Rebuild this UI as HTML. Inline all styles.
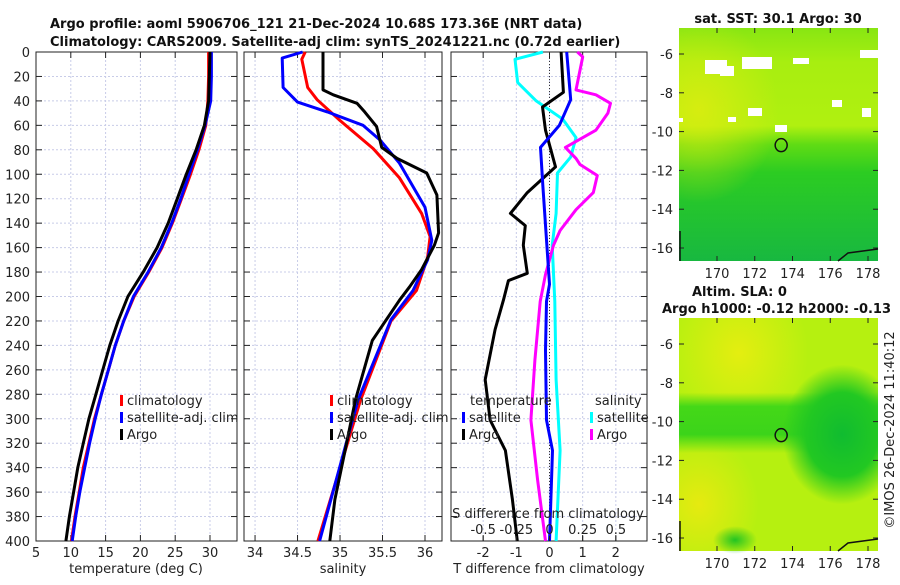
<!DOCTYPE html>
<html><head><meta charset="utf-8">
<style>
body{margin:0;background:#fff;}
svg text{font-family:"DejaVu Sans","Liberation Sans",sans-serif;}
</style></head>
<body>
<svg id="c" width="900" height="580" viewBox="0 0 900 580" xmlns="http://www.w3.org/2000/svg">
<defs>
<linearGradient id="sstg" x1="0" y1="0" x2="0" y2="1">
<stop offset="0" stop-color="#88e612"/><stop offset="0.15" stop-color="#a8ee10"/><stop offset="0.42" stop-color="#b0f010"/>
<stop offset="0.5" stop-color="#60dc14"/><stop offset="0.62" stop-color="#2ccc22"/><stop offset="1" stop-color="#18b840"/>
</linearGradient>
<radialGradient id="sstY" cx="0.1" cy="0.35" r="0.4"><stop offset="0" stop-color="#e0ec10" stop-opacity="0.8"/><stop offset="1" stop-color="#e0ec10" stop-opacity="0"/></radialGradient>
<radialGradient id="slaY1" cx="0.3" cy="0.15" r="0.35"><stop offset="0" stop-color="#e4ee10"/><stop offset="1" stop-color="#e4ee10" stop-opacity="0"/></radialGradient>
<radialGradient id="slaY2" cx="0.1" cy="0.8" r="0.3"><stop offset="0" stop-color="#e6ea10"/><stop offset="1" stop-color="#e6ea10" stop-opacity="0"/></radialGradient>
<radialGradient id="slaG" cx="0.82" cy="0.5" r="0.3"><stop offset="0" stop-color="#10bc30"/><stop offset="0.6" stop-color="#22c822"/><stop offset="1" stop-color="#22c822" stop-opacity="0"/></radialGradient>
<linearGradient id="slaBand" x1="0" y1="0" x2="0" y2="1">
<stop offset="0" stop-color="#44d818" stop-opacity="0"/><stop offset="0.32" stop-color="#44d818" stop-opacity="0"/><stop offset="0.38" stop-color="#44d818"/><stop offset="0.5" stop-color="#3cd41a"/><stop offset="0.58" stop-color="#44d818" stop-opacity="0"/>
</linearGradient>
<radialGradient id="slaG2" cx="0.5" cy="0.5" r="0.5"><stop offset="0" stop-color="#22c422"/><stop offset="1" stop-color="#22c422" stop-opacity="0"/></radialGradient>
</defs>
<g id="root"></g>
</svg>
<script>
// ---- data ----
const depthTicks=[0,20,40,60,80,100,120,140,160,180,200,220,240,260,280,300,320,340,360,380,400];
const tempTicks=[5,10,15,20,25,30];
const salTicks=[34,34.5,35,35.5,36];
const tdiffTicks=[-2,-1,0,1,2];
const sdiffTicks=[-0.5,-0.25,0,0.25,0.5];
const sdiffTickLabels=["-0.5","-0.25","0","0.25","0.5"];

const tDepth=[0,20,40,60,80,100,120,140,160,180,200,220,240,260,280,300,320,340,360,380,400];
const tArgo=[30,29.9,29.8,29.2,28,26.6,25.3,24,22.4,20.4,18.2,16.8,15.6,14.6,13.6,12.6,11.8,11,10.4,9.8,9.3];
const tClim=[29.8,29.8,29.7,29.4,28.4,27.2,25.9,24.6,23.1,21.2,19.1,17.6,16.4,15.4,14.4,13.4,12.6,11.8,11.2,10.6,10.1];
const tSat=[30.2,30.2,30.1,29.3,28.2,27,25.8,24.5,23,21.1,19,17.6,16.4,15.4,14.4,13.5,12.7,12,11.3,10.7,10.2];

const sArgoD=[0,31,35,42,49,61,78,87,99,117,148,158,178,192,203,236,285,326,366,400];
const sArgo=[34.8,34.8,34.92,35.2,35.29,35.43,35.49,35.67,36.02,36.14,36.16,36.11,35.96,35.82,35.7,35.38,35.18,35.06,34.94,34.88];
const sSatD=[0,5,29,41,49,60,72,91,127,154,170,195,219,285,400];
const sSat=[34.56,34.32,34.33,34.5,34.85,35.27,35.47,35.7,36.0,36.08,36.03,35.86,35.6,35.21,34.76];
const sClimD=[0,6,29,39,56,79,103,132,151,168,195,220,285,400];
const sClim=[34.59,34.55,34.62,34.73,35.0,35.39,35.7,35.96,36.06,36.03,35.9,35.6,35.24,34.74];

const dTArgoD=[0,33,45,64,94,115,132,142,158,181,187,203,227,268,301,326,366,400];
const dTArgo=[0.35,0.42,-0.21,-0.12,0.18,-0.67,-1.18,-0.73,-0.79,-0.67,-1.24,-1.39,-1.64,-1.94,-1.79,-1.33,-1.12,-0.97];
const dTSatD=[0,39,60,78,110,150,190,204,244,301,326,400];
const dTSat=[0.52,0.64,0.3,-0.27,-0.2,-0.1,0.0,-0.09,-0.12,-0.09,0.09,0.0];
const dSSatD=[0,6,25,40,55,70,86,99,132,158,204,268,326,400];
const dSSat=[-0.05,-0.26,-0.24,-0.1,0.1,0.2,0.16,0.06,0.05,0.02,0.04,0.05,0.08,0.05];
const dSArgoD=[0,4,31,35,42,50,64,78,87,92,101,115,129,146,158,182,204,252,301,350,400];
const dSArgo=[0.21,0.25,0.2,0.35,0.46,0.44,0.35,0.12,0.2,0.23,0.36,0.33,0.2,0.08,0.03,-0.03,-0.07,-0.11,-0.14,-0.09,-0.03];

const latTicks=[-6,-8,-10,-12,-14,-16];
const lonTicks=[170,172,174,176,178];
const argoLon=173.4, argoLat=-10.7;

// ---- helpers ----
const NS="http://www.w3.org/2000/svg";
const root=document.getElementById('root');
function el(tag,attrs,parent){const e=document.createElementNS(NS,tag);for(const k in attrs)e.setAttribute(k,attrs[k]);(parent||root).appendChild(e);return e;}
function txt(s,x,y,opts,parent){const e=el('text',Object.assign({x:x,y:y,'font-size':13,fill:'#222'},opts||{}),parent);e.textContent=s;return e;}
const Y0=52,Y1=541;
const yD=d=>Y0+(d/400)*(Y1-Y0);
function lin(d0,d1,p0,p1){return v=>p0+(v-d0)/(d1-d0)*(p1-p0);}

const panels=[
 {name:'temperature',x0:36,x1:237,sc:lin(5,33.88,36,237),ticks:tempTicks,labels:tempTicks.map(String)},
 {name:'salinity',x0:244,x1:442,sc:lin(33.87,36.2,244,442),ticks:salTicks,labels:salTicks.map(String)},
 {name:'difference',x0:451,x1:647,sc:lin(-2.97,2.94,451,647),ticks:tdiffTicks,labels:tdiffTicks.map(String)}
];

panels.forEach((p,i)=>{
 const g=el('g',{});
 
 
 depthTicks.forEach(d=>{
  const l=el('line',{x1:p.x0,x2:p.x1,y1:yD(d),y2:yD(d),stroke:'#c8cce8','stroke-width':1,'stroke-dasharray':'2,2'},g);
  
  
  el('line',{x1:p.x0,x2:p.x0+6,y1:yD(d),y2:yD(d),stroke:'#222'},g);
  el('line',{x1:p.x1-6,x2:p.x1,y1:yD(d),y2:yD(d),stroke:'#222'},g);
 });
 p.ticks.forEach((t,j)=>{
  const x=p.sc(t);
  if(x>p.x0+1&&x<p.x1-1){
   const l=el('line',{x1:x,x2:x,y1:Y0,y2:Y1,stroke:'#c8cce8','stroke-width':1,'stroke-dasharray':'2,2'},g);
   
   
  }
  el('line',{x1:x,x2:x,y1:Y1,y2:Y1-6,stroke:'#222'},g);
  el('line',{x1:x,x2:x,y1:Y0,y2:Y0+6,stroke:'#222'},g);
  const tl=txt(p.labels[j],x,557,{'text-anchor':'middle'},g);
  
  
 });
 const fr=el('rect',{x:p.x0,y:Y0,width:p.x1-p.x0,height:Y1-Y0,fill:'none',stroke:'#222','stroke-width':1},g);
 
 
});
depthTicks.forEach(d=>{
 const t=txt(String(d),30,yD(d)+5,{'text-anchor':'end'});
 
 
});
const z=el('line',{x1:panels[2].sc(0),x2:panels[2].sc(0),y1:Y0,y2:Y1,stroke:'#333','stroke-width':1,'stroke-dasharray':'1,2'});



function line(depths,vals,sc,color,name){
 const pts=depths.map((d,i)=>sc(vals[i]).toFixed(1)+','+yD(d).toFixed(1)).join(' ');
 const e=el('polyline',{points:pts,fill:'none',stroke:color,'stroke-width':3,'stroke-linejoin':'round'});
 
 
}
line(tDepth,tClim,panels[0].sc,'#ff0000','temp-climatology-line');
line(tDepth,tSat,panels[0].sc,'#0000ff','temp-satellite-line');
line(tDepth,tArgo,panels[0].sc,'#000000','temp-argo-line');
line(sClimD,sClim,panels[1].sc,'#ff0000','sal-climatology-line');
line(sSatD,sSat,panels[1].sc,'#0000ff','sal-satellite-line');
line(sArgoD,sArgo,panels[1].sc,'#000000','sal-argo-line');
const sdsc=v=>panels[2].sc(v*4);
line(dSSatD,dSSat,sdsc,'#00ffff','sdiff-satellite-line');
line(dSArgoD,dSArgo,sdsc,'#ff00ff','sdiff-argo-line');
line(dTArgoD,dTArgo,panels[2].sc,'#000000','tdiff-argo-line');
line(dTSatD,dTSat,panels[2].sc,'#0000ff','tdiff-satellite-line');

sdiffTicks.forEach((s,j)=>{
 const x=sdsc(s);
 el('line',{x1:x,x2:x,y1:Y1,y2:Y1-5,stroke:'#222'});
 const t=txt(sdiffTickLabels[j],x,534,{'text-anchor':'middle'});
 
 
});
const sdt=txt('S difference from climatology',548,518,{'text-anchor':'middle'});



[['temperature (deg C)',136,'temperature-axis-title'],['salinity',343,'salinity-axis-title'],['T difference from climatology',549,'t-diff-axis-title']].forEach(a=>{
 const t=txt(a[0],a[1],573,{'text-anchor':'middle'});
 
 
});

function legend(x,y,color,label,name){
 const g=el('g',{});
 
 
 el('rect',{x:x,y:y-10,width:3,height:11,fill:color},g);
 txt(label,x+7,y,{},g);
}
legend(120,405,'#ff0000','climatology','legend-climatology');
legend(120,422,'#0000ff','satellite-adj. clim','legend-satellite');
legend(120,439,'#000000','Argo','legend-argo');
legend(330,405,'#ff0000','climatology','legend-sal-climatology');
legend(330,422,'#0000ff','satellite-adj. clim','legend-sal-satellite');
legend(330,439,'#000000','Argo','legend-sal-argo');
const lt=txt('temperature',470,405);
legend(462,422,'#0000ff','satellite','legend-tdiff-satellite');
legend(462,439,'#000000','Argo','legend-tdiff-argo');
const ls=txt('salinity',595,405);
legend(590,422,'#00ffff','satellite','legend-sdiff-satellite');
legend(590,439,'#ff00ff','Argo','legend-sdiff-argo');

const t1=txt('Argo profile: aoml 5906706_121 21-Dec-2024 10.68S 173.36E (NRT data)',50,28,{'font-weight':'bold','fill':'#111'});

const t2=txt('Climatology: CARS2009. Satellite-adj clim: synTS_20241221.nc (0.72d earlier)',50,46,{'font-weight':'bold','fill':'#111'});


function map(y0,y1,name,fills){
 const g=el('g',{});
 
 
 const x0=679,x1=878;
 fills.forEach(f=>el('rect',Object.assign({x:x0,y:y0,width:x1-x0,height:y1-y0},f),g));
 const lon=lin(170,178,717,868);
 const latS=v=>(y0+26)+(-6-v)*19.4;
 lonTicks.forEach(l=>{const x=lon(l);el('line',{x1:x,x2:x,y1:y1,y2:y1-5,stroke:'#222'},g);el('line',{x1:x,x2:x,y1:y0,y2:y0+5,stroke:'#222'},g);
  const t=txt(String(l),x,y1+17,{'text-anchor':'middle'},g);});
 latTicks.forEach(l=>{const y=latS(l);el('line',{x1:x0,x2:x0+5,y1:y,y2:y,stroke:'#222'},g);el('line',{x1:x1-5,x2:x1,y1:y,y2:y,stroke:'#222'},g);
  const t=txt(String(l),673,y+5,{'text-anchor':'end'},g);});
 const c=el('ellipse',{cx:lon(argoLon),cy:latS(argoLat),rx:6,ry:6.5,fill:'none',stroke:'#111','stroke-width':1.5},g);
 
 el('path',{d:`M${x1-40} ${y1} L${x1-30} ${y1-8} L${x1} ${y1-12}`,fill:'none',stroke:'#111','stroke-width':1.5},g);
 el('line',{x1:x0+1,x2:x0+1,y1:y1-30,y2:y1,stroke:'#111','stroke-width':1.5},g);
 return g;
}
const m1=map(28,261,'sst-map',[{fill:'url(#sstg)'},{fill:'url(#sstY)'}]);
[[705,60,22,14],[720,66,14,10],[742,57,30,12],[793,58,16,6],[860,50,18,8],[832,100,10,7],[862,108,9,9],[748,108,14,8],[728,117,8,5],[775,125,12,7],[679,118,4,4]].forEach(r=>{
 const w=el('rect',{x:r[0],y:r[1],width:r[2],height:r[3],fill:'#fff'},m1);
 
});
m1.appendChild(m1.querySelector('ellipse'));
map(318,551,'sla-map',[{fill:'#b6f010'},{fill:'url(#slaY1)'},{fill:'url(#slaY2)'},{fill:'url(#slaBand)'},{fill:'url(#slaG)'}]);
const blob=el('ellipse',{cx:735,cy:540,rx:22,ry:14,fill:'url(#slaG2)'});
const mt1=txt('sat. SST: 30.1 Argo: 30',778,23,{'text-anchor':'middle','font-weight':'bold','fill':'#111'});

const mt2=txt('Altim. SLA: 0',692,296,{'font-weight':'bold','fill':'#111'});

const mt3=txt('Argo h1000: -0.12 h2000: -0.13',662,313,{'font-weight':'bold','fill':'#111'});

const cr=txt('©IMOS 26-Dec-2024 11:40:12',0,0,{'text-anchor':'middle',transform:'translate(894,430) rotate(-90)'});

</script>
</body></html>
